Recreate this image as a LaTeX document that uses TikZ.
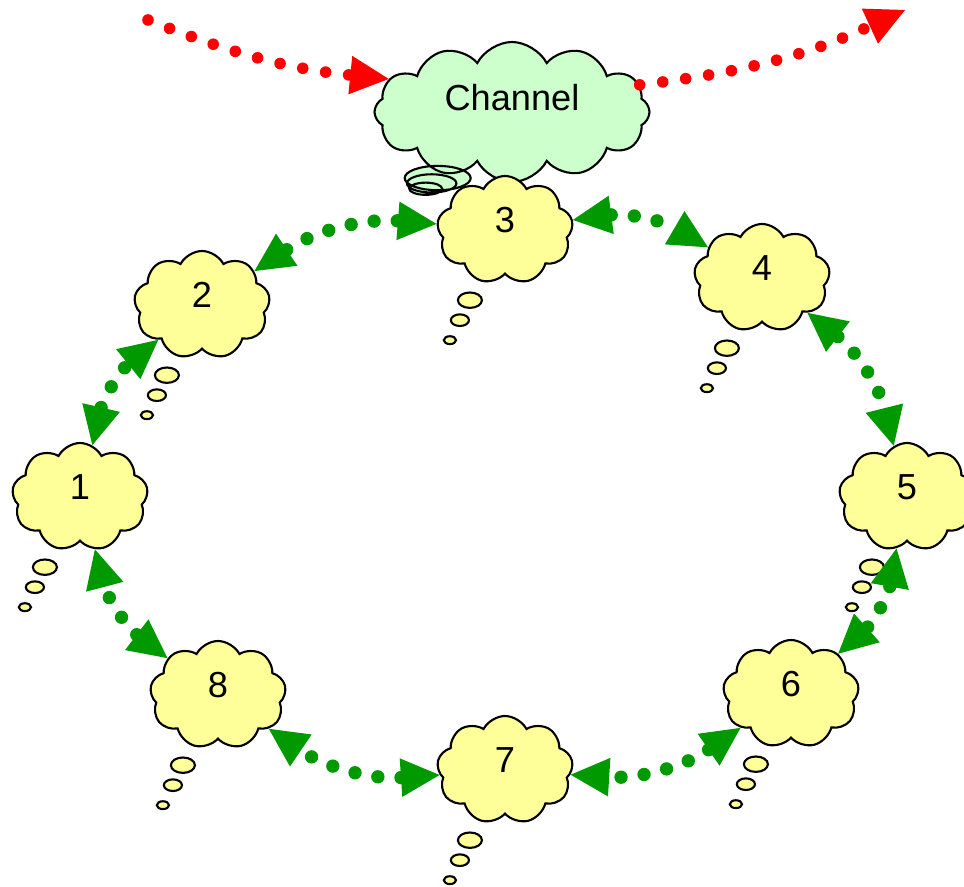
\documentclass[tikz,border=0pt]{standalone}
\usepackage{fontspec}
\setmainfont{Liberation Sans}
\usetikzlibrary{shapes.callouts,arrows.meta}
\definecolor{pale}{HTML}{FFFF99}
\definecolor{mint}{HTML}{CCFFCC}
\definecolor{ringgreen}{HTML}{009900}

\tikzset{
  bubble/.style={cloud callout, draw, line width=0.6pt, fill=pale, cloud puffs=9,
    cloud puff arc=125, aspect=1.3, minimum width=1.36cm, minimum height=1.08cm, inner sep=0pt,
    text depth=0.2cm, font=\fontsize{10.3}{12}\selectfont,
    callout relative pointer={(-0.30,-0.60)}, callout pointer segments=3,
    callout pointer start size=.22 of callout, callout pointer end size=.09 of callout},
  link/.style={draw=ringgreen, line width=3.8pt, line cap=round, dash pattern=on 0pt off 6.6pt,
    {Triangle[length=11pt,width=11pt,line width=0pt]}-{Triangle[length=11pt,width=11pt,line width=0pt]}},
  feed/.style={draw=red, line width=3.3pt, line cap=round, dash pattern=on 0pt off 6.6pt,
    -{Triangle[length=11pt,width=11pt,line width=0pt]}}
}

\begin{document}
\begin{tikzpicture}
  \useasboundingbox (0,0) rectangle (9.64,-8.87);
  % the shared channel
  \node[bubble, fill=mint, cloud puffs=12, aspect=1.9, minimum width=2.75cm, minimum height=1.4cm,
        text depth=0.3cm, callout relative pointer={(-0.18,-0.16)},
        callout pointer start size=.3 of callout,
        callout pointer end size=.12 of callout] (chan) at (5.12,-1.12) {Channel};
  \coordinate (src) at (1.48,-0.2);
  \coordinate (sink) at (9.05,-0.1);
  \draw[feed] (src) to[bend right=8] (chan.165);
  \draw[feed] (chan.12) to[bend right=9] (sink);
  % the ring
  \foreach \n/\x/\y in {1/0.80/-4.97, 2/2.02/-3.05, 3/5.05/-2.30, 4/7.62/-2.78,
                        5/9.07/-4.97, 6/7.91/-6.94, 7/5.05/-7.70, 8/2.18/-6.95}
    \node[bubble] (n\n) at (\x,\y) {\n};
  \foreach \a/\b in {1/2,2/3,3/4,4/5,5/6,6/7,7/8,8/1}
    \draw[link] (n\a) to[bend left=19] (n\b);
\end{tikzpicture}
\end{document}
